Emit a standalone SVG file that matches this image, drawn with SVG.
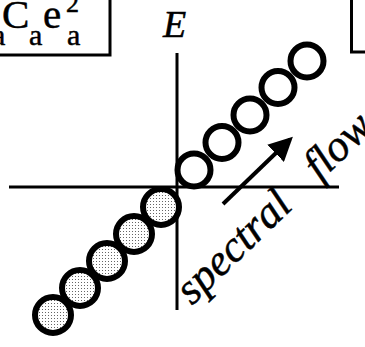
<svg xmlns="http://www.w3.org/2000/svg" width="365" height="347" viewBox="0 0 365 347">
<defs>
<pattern id="dots" width="3" height="3" patternUnits="userSpaceOnUse">
<rect width="3" height="3" fill="#ffffff"/>
<rect x="0" y="0" width="1" height="1" fill="#666"/>
</pattern>
<marker id="head" markerWidth="6" markerHeight="6" refX="5" refY="3" orient="auto" markerUnits="strokeWidth" viewBox="0 0 6 6">
<path d="M0,0 L6,3 L0,6 z" fill="#000"/>
</marker>
</defs>
<style>
.ax{stroke:#000;stroke-width:3;fill:none}
.box{stroke:#000;stroke-width:3;fill:#fff}
.open{fill:#fff;stroke:#000;stroke-width:6}
.fill{fill:url(#dots);stroke:#000;stroke-width:6}
.tx{font-family:"Liberation Serif","Times New Roman",serif;fill:#000;stroke:#000;stroke-width:0.5}
.it{font-style:italic}
</style>
<g id="box-left">
<rect class="box" x="-10" y="-10" width="120" height="65"/>
<text class="tx" x="-8" y="45" font-size="30">a</text>
<text class="tx" x="2" y="28" font-size="41">C</text>
<text class="tx" x="29" y="45" font-size="30">a</text>
<text class="tx" x="43" y="28" font-size="41">e</text>
<text class="tx" x="66" y="12" font-size="26">2</text>
<text class="tx" x="67" y="45" font-size="30">a</text>
</g>
<g id="box-right">
<rect class="box" x="351.5" y="-10" width="30" height="62"/>
</g>
<g id="axes">
<line class="ax" x1="9" y1="187" x2="339" y2="187"/>
<line class="ax" x1="177" y1="53" x2="177" y2="310"/>
<text class="tx it" x="163" y="37" font-size="38">E</text>
</g>
<g id="filled-states">
<circle class="fill" cx="161" cy="207" r="18"/>
<circle class="fill" cx="134" cy="234" r="18"/>
<circle class="fill" cx="107" cy="261" r="18"/>
<circle class="fill" cx="80" cy="288" r="18"/>
<circle class="fill" cx="53" cy="315" r="18"/>
</g>
<g id="open-states">
<circle class="open" cx="194" cy="170" r="16.5"/>
<circle class="open" cx="222" cy="142.5" r="16.5"/>
<circle class="open" cx="250" cy="115" r="16.5"/>
<circle class="open" cx="278" cy="87.5" r="16.5"/>
<circle class="open" cx="307" cy="61" r="16.5"/>
</g>
<g id="connectors">
<line x1="223" y1="204" x2="290" y2="139.5" stroke="#000" stroke-width="4" marker-end="url(#head)"/>
</g>
<g id="label">
<text class="tx it" font-size="44" transform="translate(192,306) rotate(-44)">spectral</text>
<text class="tx it" font-size="44" transform="translate(320,182) rotate(-44)">flow</text>
</g>
</svg>
